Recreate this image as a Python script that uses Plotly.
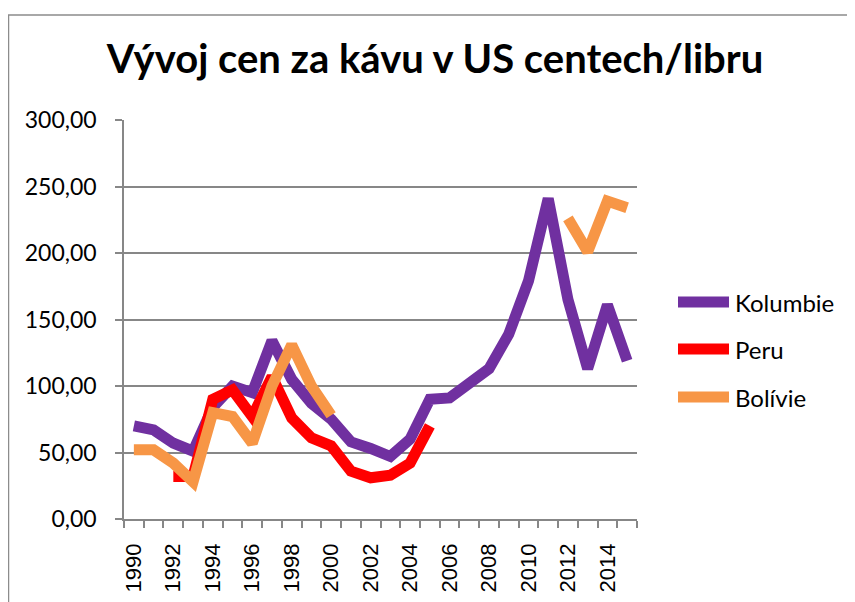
import plotly.graph_objects as go

years = list(range(1990, 2016))
kolumbie = [70, 67, 57, 51, 84, 100, 95, 134, 105, 87, 75, 58, 53, 47, 60, 90, 91, 101, 113, 139, 179, 241, 165, 113, 161, 119]
peru = [None, None, 32, 32, 90, 97, 77, 107, 76, 61, 55, 36, 31, 33, 42, 70,
        None, None, None, None, None, None, None, None, None, None]
bolivie = [52, 52, 42, 28, 80, 77, 57, 100, 131, 100, 78,
           None, None, None, None, None, None, None, None, None, None, None, 226, 201, 239, 234]

names = ["Kolumbie", "Peru", "Bolívie"]
colors = ["#7030A0", "#FF0000", "#F79646"]
series = [kolumbie, peru, bolivie]

title_text = "Vývoj cen za kávu v US centech/libru"
xtick_vals = list(range(1990, 2016, 2))
ytick_vals = [0, 50, 100, 150, 200, 250, 300]

GRID = "#878787"
FONT = "Lato"
OFF = 8  # page body margin

fig = go.Figure()
for name, col, vals in zip(names, colors, series):
    fig.add_trace(go.Scatter(x=years, y=vals, mode="lines", name=name,
                             line=dict(color=col, width=11), connectgaps=False,
                             showlegend=False))

# plot area in screen px: x 124..637, y 120..519
L, R, T, B = 124 - OFF, 637 - OFF, 120 - OFF, 519 - OFF
W, H = 855, 602
pw, ph = R - L, B - T

def px_x(p):
    return (p - OFF - L) / pw

def px_y(p):
    return (B - (p - OFF)) / ph

shapes = [
    dict(type="rect", xref="paper", yref="paper",
         x0=px_x(8.5), x1=px_x(900), y0=px_y(650), y1=px_y(15),
         line=dict(color="#8C8C8C", width=1.5), fillcolor="rgba(0,0,0,0)", layer="below"),
]
annotations = []
leg_y = [302, 349, 397]
for name, col, yy in zip(names, colors, leg_y):
    shapes.append(dict(type="line", xref="paper", yref="paper",
                       x0=px_x(678), x1=px_x(729), y0=px_y(yy), y1=px_y(yy),
                       line=dict(color=col, width=11)))
    annotations.append(dict(xref="paper", yref="paper", x=px_x(733), y=px_y(yy),
                            text=name, showarrow=False, xanchor="left", yanchor="middle",
                            font=dict(family=FONT, size=24, color="#000000")))

fig.update_layout(
    width=W, height=H,
    margin=dict(l=L, r=W - R, t=T, b=H - B, pad=0),
    paper_bgcolor="white", plot_bgcolor="white",
    separators=", ",
    title=dict(text="<b>" + title_text + "</b>", x=((113 + 757) / 2 - OFF) / W, xanchor="center",
               y=1 - (59 - OFF) / H, yanchor="middle",
               font=dict(family=FONT, size=40, color="#000000")),
    shapes=shapes,
    annotations=annotations,
    showlegend=False,
)

fig.update_xaxes(
    range=[1989.5, 2015.5], tickmode="array", tickvals=xtick_vals,
    ticktext=[str(v) for v in xtick_vals], tickangle=-90,
    ticks="", ticklen=0, showgrid=False, zeroline=False,
    showline=True, linecolor=GRID, linewidth=1.5,
    tickfont=dict(family="Liberation Sans", size=22, color="#000000"),
    ticklabelstandoff=14,
    minor=dict(tickmode="array", tickvals=[1989.5 + k for k in range(27)],
               ticks="outside", ticklen=7, tickcolor=GRID, tickwidth=1.5, showgrid=False),
)
fig.update_yaxes(
    range=[0, 300], tickmode="array", tickvals=ytick_vals, tickformat=".2f",
    ticks="outside", ticklen=7, tickcolor=GRID, tickwidth=1.5,
    showgrid=True, gridcolor=GRID, gridwidth=1.5, zeroline=False,
    showline=True, linecolor=GRID, linewidth=1.5,
    tickfont=dict(family=FONT, size=23, color="#000000"),
    ticklabelstandoff=14,
)

fig.write_html("out.html")
